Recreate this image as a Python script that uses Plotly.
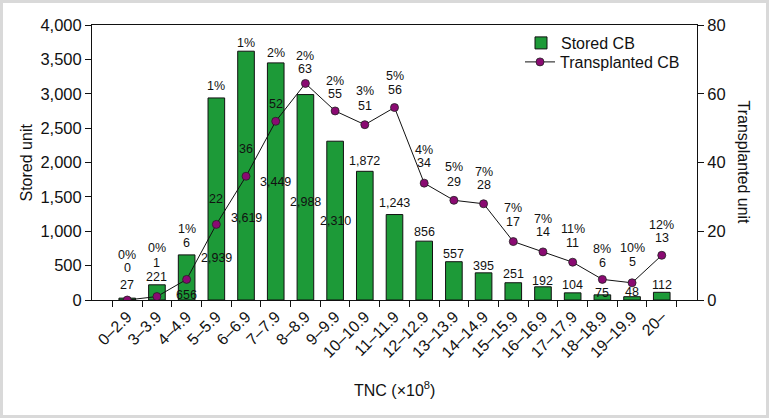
import plotly.graph_objects as go

# ---- data ----
categories = ["0–2.9", "3–3.9", "4–4.9", "5–5.9", "6–6.9", "7–7.9", "8–8.9",
              "9–9.9", "10–10.9", "11–11.9", "12–12.9", "13–13.9", "14–14.9",
              "15–15.9", "16–16.9", "17–17.9", "18–18.9", "19–19.9", "20–"]
stored = [27, 221, 656, 2939, 3619, 3449, 2988, 2310, 1872, 1243, 856, 557,
          395, 251, 192, 104, 75, 48, 112]
transplanted = [0, 1, 6, 22, 36, 52, 63, 55, 51, 56, 34, 29, 28, 17, 14, 11, 6, 5, 13]
percent = ["0%", "0%", "1%", "1%", "1%", "2%", "2%", "2%", "3%", "5%", "4%", "5%",
           "7%", "7%", "7%", "11%", "8%", "10%", "12%"]

# ---- label placement (left-axis units), kept apart from the data ----
stored_label_y = [218, 335, 73, 611, 1193, 1716, 1425, 1149, 2022, 1411, 989,
                  669, 495, 378, 276, 218, 102, 116, 218]
trans_label_y = [465, 538, 829, 1469, 2196, 2851, 3360, 2996, 2822, 3055, 1993,
                 1716, 1673, 1135, 989, 829, 538, 553, 902]
pct_label_y = [655, 756, 1033, 3113, 3738, 3593, 3549, 3185, 3040, 3258, 2182,
               1935, 1862, 1338, 1178, 1033, 742, 756, 1091]

W, H = 769, 418
ML, MR, MT, MB = 92, 72, 25, 118
PW, PH = W - ML - MR, H - MT - MB
FONT = "Liberation Sans, Arial, sans-serif"
TXT = "#111111"

fig = go.Figure()
fig.add_trace(go.Bar(
    x=categories, y=stored, name="Stored CB", legend="legend",
    marker=dict(color="#1d9a38", line=dict(color=TXT, width=1)),
))
fig.add_trace(go.Scatter(
    x=categories, y=transplanted, name="Transplanted CB", yaxis="y2", legend="legend2",
    mode="lines+markers",
    line=dict(color=TXT, width=1),
    marker=dict(color="#8a0a72", size=8, line=dict(color="#222222", width=0.8)),
))

ann = []
lab_font = dict(size=12.5, color=TXT, family=FONT)
for c, v, y in zip(categories, stored, stored_label_y):
    ann.append(dict(x=c, y=y, xref="x", yref="y", text=f"{v:,}", showarrow=False, font=lab_font))
for c, v, y in zip(categories, transplanted, trans_label_y):
    ann.append(dict(x=c, y=y, xref="x", yref="y", text=str(v), showarrow=False, font=lab_font))
for c, p, y in zip(categories, percent, pct_label_y):
    ann.append(dict(x=c, y=y, xref="x", yref="y", text=p, showarrow=False, font=lab_font))

# axis titles
title_font = dict(size=16, color=TXT, family=FONT)
ann.append(dict(x=(26 - ML) / PW, y=0.5, xref="paper", yref="paper", text="Stored unit",
                xanchor="center", yanchor="middle", textangle=-90, showarrow=False, font=title_font))
ann.append(dict(x=(743 - ML) / PW, y=0.5, xref="paper", yref="paper", text="Transplanted unit",
                xanchor="center", yanchor="middle", textangle=90, showarrow=False, font=title_font))
ann.append(dict(x=0.5, y=-(389 - MT - PH) / PH, xref="paper", yref="paper",
                xanchor="center", yanchor="middle",
                text="TNC (×10<sup>8</sup>)", showarrow=False, font=title_font))

shapes = [dict(type="rect", xref="paper", yref="paper",
               x0=(1.5 - ML) / PW, x1=(W - 1.5 - ML) / PW,
               y0=-(H - 1.5 - MT - PH) / PH, y1=1 + (MT - 1.5) / PH,
               line=dict(color="#d9d9d9", width=3), layer="below")]

leg_common = dict(xanchor="left", yanchor="middle", bgcolor="rgba(0,0,0,0)",
                  font=dict(size=16, family=FONT, color=TXT), itemwidth=30)

fig.update_layout(
    width=W, height=H,
    margin=dict(l=ML, r=MR, t=MT, b=MB),
    paper_bgcolor="white", plot_bgcolor="white",
    font=dict(family=FONT, color=TXT, size=15),
    bargap=0.44,
    showlegend=True,
    legend=dict(x=(521 - ML) / PW, y=1 - (43 - MT) / PH, **leg_common),
    legend2=dict(x=(520 - ML) / PW, y=1 - (62 - MT) / PH, **leg_common),
    xaxis=dict(type="category", tickson="boundaries", ticks="outside", ticklen=6,
               tickcolor=TXT, showline=True, linecolor=TXT, linewidth=1,
               mirror=True, tickangle=-45, tickfont=dict(size=16), showgrid=False),
    yaxis=dict(range=[0, 4000], tickvals=[0, 500, 1000, 1500, 2000, 2500, 3000, 3500, 4000],
               tickformat=",", ticks="outside", ticklen=6, tickcolor=TXT,
               showline=True, linecolor=TXT, linewidth=1, showgrid=False,
               zeroline=False, tickfont=dict(size=16.5)),
    yaxis2=dict(range=[0, 80], tickvals=[0, 20, 40, 60, 80], overlaying="y", side="right",
                ticks="outside", ticklen=6, tickcolor=TXT, showline=True,
                linecolor=TXT, linewidth=1, showgrid=False, zeroline=False,
                tickfont=dict(size=16.5)),
    annotations=ann,
    shapes=shapes,
)

fig.write_html("out.html", config={"displayModeBar": False},
               post_script="document.body.style.margin='0';document.body.style.overflow='hidden';")
